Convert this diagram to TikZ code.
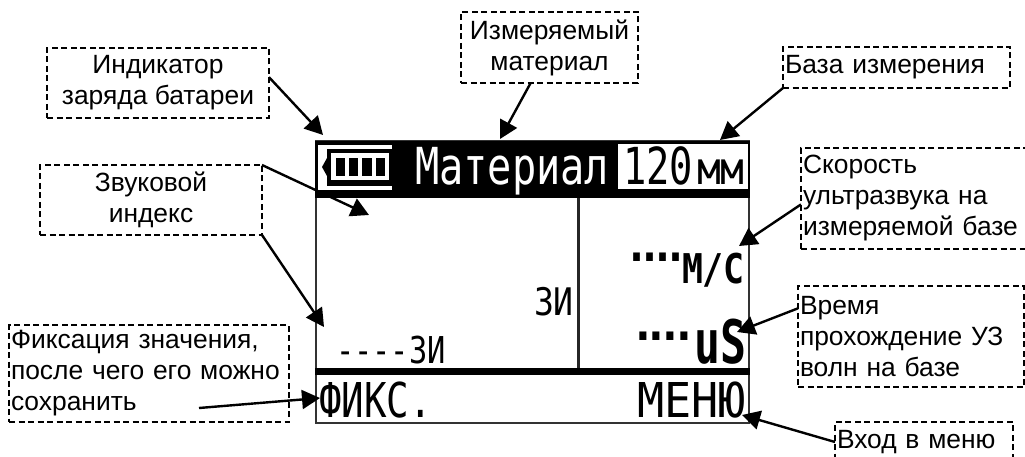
\documentclass[tikz,border=0pt]{standalone}
\usepackage{fontspec}
\setmainfont{Liberation Sans}
\newfontfamily\lcdfont{DejaVu Sans Mono}
\usetikzlibrary{arrows.meta}
\tikzset{
  x=1pt,y=-1pt,
  note/.style={draw=black,line width=1.5pt,dash pattern=on 6pt off 3.5pt,anchor=north west,inner sep=0pt,outer sep=0pt,
    font=\fontsize{26.4}{31}\selectfont,text=black},
  noteL/.style={note,align=left,inner xsep=2pt},
  noteC/.style={note,align=center},
  lead/.style={draw=black,line width=2.4pt,-{Triangle[length=18pt,width=19pt]}},
  lcd/.style={anchor=base west,inner sep=0pt,outer sep=0pt},
  fr/.style={draw=black!80,line width=2pt},
}
\newcommand{\lcdsize}[1]{\lcdfont\fontsize{#1}{#1}\selectfont}
\begin{document}
\begin{tikzpicture}
\useasboundingbox (0,0) rectangle (1025,457);
\clip (0,0) rectangle (1025,457);
% screen
\draw[fr,fill=white] (316,141) rectangle (749,423);
\fill[black] (315,141) rectangle (750,198);
\fill[white] (618,144) rectangle (748,189);
\draw[black!85,line width=3pt] (578,198) -- (578,369);
\fill[black] (315,368) rectangle (750,375);
% battery
\fill[white] (318,145) rectangle (327,190);
\fill[white] (327,145) rectangle (392,149);
\fill[white] (327,186) rectangle (392,190);
\fill[white] (331,153) rectangle (389,180);
\fill[black] (322,167) -- (327,158) -- (327,176) -- cycle;
\fill[black] (336,158) rectangle (345,176);
\fill[black] (349,158) rectangle (358,176);
\fill[black] (362,158) rectangle (372,176);
\fill[black] (376,158) rectangle (385,176);
% screen texts
\node[lcd,text=white,xscale=.79] (tmat) at (415,185) {\lcdsize{51}Материал};
\node[lcd,xscale=.76] (tb) at (623,185) {\lcdsize{51}120};
\node[lcd,xscale=.88] (tmm) at (697,185) {\lcdsize{45}мм};
\node[lcd,xscale=.87] (tzi) at (534,315) {\lcdsize{38}ЗИ};
\node[lcd,xscale=.82] (tzz) at (336,363) {\lcdsize{37}----ЗИ};
\node[lcd,xscale=.36] (tda) at (630,274) {\lcdsize{60}\bfseries ----};
\node[lcd,xscale=.85] (tms) at (682,283) {\lcdsize{41}\bfseries М/С};
\node[lcd,xscale=.38] (tdb) at (636,353) {\lcdsize{60}\bfseries ----};
\node[lcd,xscale=.72] (tus) at (694,363) {\lcdsize{60}\bfseries uS};
\node[lcd,xscale=.78] (tfix) at (319,417) {\lcdsize{48}ФИКС.};
\node[lcd,xscale=.94] (tmen) at (637,417) {\lcdsize{48}МЕНЮ};
% notes
\node[noteC,minimum width=222pt,minimum height=70pt] (ind) at (47,48) {Индикатор\\заряда батареи};
\node[noteC,minimum width=177pt,minimum height=71pt] (izm) at (461,12) {Измеряемый\\материал};
\node[noteL,text width=223pt,minimum height=41pt] (baza) at (783,47) {База измерения};
\node[noteC,minimum width=222pt,minimum height=70pt] (zv) at (40,165) {Звуковой\\индекс};
\node[noteL,text width=221pt,minimum height=101pt] (skor) at (801,148) {Скорость\\ультразвука на\\измеряемой базе};
\node[noteL,text width=222pt,minimum height=101pt] (vrem) at (798,286) {Время\\прохождение УЗ\\волн на базе};
\node[noteL,text width=276pt,minimum height=97pt] (fix) at (9,325) {Фиксация значения,\\после чего его можно\\сохранить};
\node[noteL,text width=174pt,minimum height=40pt] (vhod) at (835,422) {Вход в меню};
% connector ends
\coordinate (eind) at (323,135);
\coordinate (eizm) at (500,139);
\coordinate (ebaz) at (720,140);
\coordinate (ezv) at (369,215);
\coordinate (ezi) at (324,327);
\coordinate (sfix) at (199,408);
\coordinate (efix) at (320,398);
\coordinate (eskor) at (739,246);
\coordinate (evrem) at (737,332);
\coordinate (evh) at (742,415);
\draw[lead] (ind.3.6) -- (eind);
\draw[lead] (izm.242.5) -- (eizm);
\draw[lead] (baza.south west) -- (ebaz);
\draw[lead] (zv.north east) -- (ezv);
\draw[lead] (zv.south east) -- (ezi);
\draw[lead] (sfix) -- (efix);
\draw[lead] (skor.183.4) -- (eskor);
\draw[lead] (vrem.166.8) -- (evrem);
\draw[lead] (vhod.west) -- (evh);
\end{tikzpicture}
\end{document}
